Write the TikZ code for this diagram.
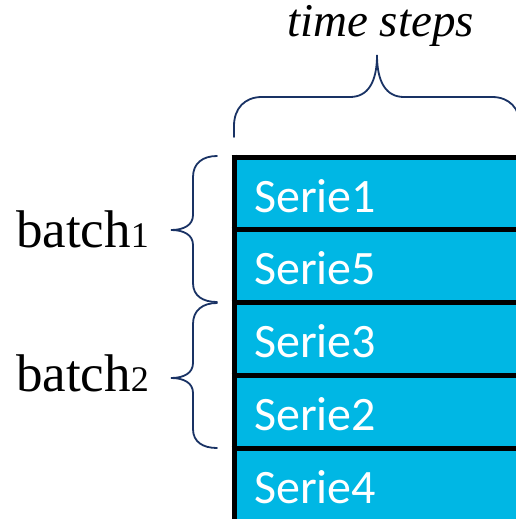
\documentclass[tikz,border=0pt]{standalone}
\usepackage{fontspec}
\setmainfont{Liberation Serif}
\newfontfamily\rowfont{Carlito}
\definecolor{rowcyan}{RGB}{0,183,228}
\definecolor{bracenavy}{RGB}{25,50,100}
% digit shrunk to x-height, in the manner of old-style figures
\newcommand{\osdigit}[1]{\scalebox{0.68}{#1}}
\tikzset{
  rowfill/.style={fill=rowcyan},
  rowtext/.style={anchor=base west, inner sep=0pt, text=white, font=\rowfont\fontsize{48}{48}\selectfont},
  rule/.style={line width=5pt, black},
  bracket/.style={line width=1.8pt, bracenavy, line cap=round},
  sidelabel/.style={anchor=base west, inner sep=0pt, font=\fontsize{53}{53}\selectfont},
}
\begin{document}
\begin{tikzpicture}[x=1pt,y=-1pt]
\useasboundingbox (0,0) rectangle (516,519);
\clip (0,0) rectangle (516,519);

% rows of the table
\fill[rowfill] (234,157) rectangle (530,530);
\foreach \y in {157,229.75,302.5,375.25,448}
  \draw[rule] (231.5,\y) -- (530,\y);
\draw[rule] (234,154.5) -- (234,530);

\node[rowtext] (s1) at (254,212) {Serie1};
\node[rowtext] (s5) at (254,284.75) {Serie5};
\node[rowtext] (s3) at (254,357.5) {Serie3};
\node[rowtext] (s2) at (254,430.25) {Serie2};
\node[rowtext] (s4) at (254,503) {Serie4};

% brace over the time axis
\draw[bracket] (234,137) -- (234,126) .. controls (234,108) and (245,97) .. (262,97)
  -- (350,97) .. controls (368,97) and (377,82) .. (377,55)
  .. controls (377,82) and (386,97) .. (404,97)
  -- (492,97) .. controls (509,97) and (520,108) .. (520,126) -- (520,137);
\node[anchor=base west, inner sep=0pt, font=\itshape\fontsize{47}{47}\selectfont] (ts) at (287,37) {time steps};

% braces for the batches
\draw[bracket] (217,156) .. controls (203,156) and (193,163) .. (193,177) -- (193,215)
  .. controls (193,225) and (184,230) .. (171,230)
  .. controls (184,230) and (193,235) .. (193,245) -- (193,283)
  .. controls (193,296) and (203,302) .. (217,302);
\draw[bracket] (217,303) .. controls (203,303) and (193,310) .. (193,324) -- (193,363)
  .. controls (193,373) and (184,378) .. (171,378)
  .. controls (184,378) and (193,383) .. (193,393) -- (193,429)
  .. controls (193,442) and (203,448) .. (217,448);
\node[sidelabel] (b1) at (16,247) {batch\osdigit{1}};
\node[sidelabel] (b2) at (16,391) {batch\osdigit{2}};
\end{tikzpicture}
\end{document}
